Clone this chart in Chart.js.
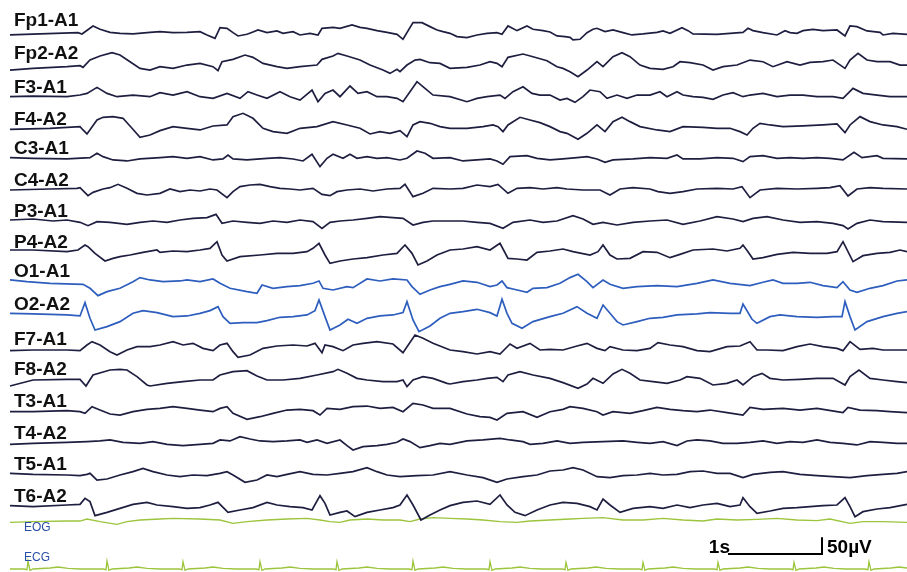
<!DOCTYPE html>
<html>
<head>
<meta charset="utf-8">
<script src="https://cdn.jsdelivr.net/npm/chart.js@4.4.1/dist/chart.umd.min.js"></script>
<style>
  html, body { margin: 0; padding: 0; background: #fff; }
  #wrap { position: relative; width: 907px; height: 572px; }
</style>
</head>
<body>
<div id="wrap"><canvas id="eeg"></canvas></div>
<script>
/* EEG page, 16 referential channels + EOG + ECG
   samples: [sample index, amplitude in uV], 94 samples = 1 s on screen */

const FS = 94;

const fp1A1 = [[0,-5],[68,2],[72,-2],[83,22],[90,12],[100,3],[110,0],[123,-2],[140,3],[150,5],[163,2],[177,3],[190,5],[197,-5],[205,-15],[210,17],[217,15],[223,2],[228,-8],[237,-3],[243,4],[248,10],[257,2],[267,7],[273,0],[283,5],[290,-5],[300,0],[308,-5],[312,15],[323,18],[330,15],[342,25],[350,18],[357,15],[367,8],[377,3],[387,-3],[393,-18],[403,32],[412,32],[420,20],[427,10],[433,5],[440,0],[447,-10],[457,-13],[467,-5],[477,0],[487,2],[492,-3],[498,22],[507,8],[517,22],[523,12],[533,8],[540,4],[547,-8],[555,-10],[560,-12],[563,-20],[570,-18],[577,2],[583,12],[587,15],[595,5],[603,10],[613,2],[622,-5],[633,-2],[647,3],[653,7],[660,0],[672,17],[678,8],[683,-2],[707,-3],[720,0],[733,3],[738,15],[743,8],[753,2],[767,-5],[775,8],[780,2],[787,0],[793,8],[803,12],[813,8],[827,10],[835,-8],[840,22],[847,20],[857,7],[870,3],[873,-5],[883,0],[897,-3]];

const fp2A2 = [[0,-10],[23,-5],[57,0],[70,3],[73,-2],[80,20],[90,32],[102,42],[110,35],[120,15],[130,-5],[140,-10],[150,0],[163,-5],[177,5],[190,10],[203,0],[208,-12],[212,15],[223,22],[235,35],[243,28],[253,10],[267,0],[277,-5],[290,0],[307,5],[312,22],[323,32],[328,40],[337,32],[350,20],[360,5],[373,-10],[380,-20],[387,-8],[390,-15],[397,5],[405,20],[410,22],[420,12],[430,10],[440,-5],[457,-2],[470,5],[480,15],[487,10],[492,0],[498,28],[513,38],[523,30],[537,18],[547,0],[553,-5],[560,-15],[568,-30],[577,-10],[587,15],[593,0],[603,30],[612,42],[620,30],[630,5],[640,-5],[653,-8],[663,0],[670,15],[680,12],[693,5],[703,-10],[713,0],[727,5],[740,20],[753,15],[763,0],[777,15],[790,5],[800,13],[813,15],[823,20],[835,-5],[840,20],[848,40],[857,20],[867,15],[880,15],[890,5],[897,5]];

const f3A1 = [[0,0],[23,2],[57,0],[70,5],[77,10],[87,28],[97,10],[107,0],[123,5],[140,0],[150,12],[163,5],[177,15],[190,0],[203,-5],[217,10],[230,-5],[238,15],[247,5],[257,-5],[270,15],[280,0],[290,-10],[302,20],[308,-15],[315,10],[323,20],[330,0],[340,32],[348,10],[357,15],[367,0],[377,0],[387,-5],[393,-15],[407,45],[415,25],[423,5],[440,0],[457,-15],[467,-5],[477,0],[490,5],[495,-5],[503,15],[513,30],[522,10],[530,5],[540,5],[550,-10],[557,-5],[565,-17],[573,0],[580,20],[590,15],[597,-5],[607,5],[617,-5],[627,5],[640,5],[650,15],[657,0],[667,15],[673,5],[683,0],[693,-2],[703,-8],[713,5],[723,12],[733,0],[740,5],[753,10],[767,0],[780,5],[793,5],[807,0],[823,0],[833,-5],[843,25],[853,10],[867,5],[880,0],[897,0]];

const f4A2 = [[0,-3],[40,0],[70,5],[73,-5],[77,-17],[87,25],[93,33],[103,35],[113,30],[122,0],[130,-27],[140,-20],[150,-7],[163,5],[177,0],[190,-5],[203,7],[217,10],[223,35],[233,45],[243,30],[253,0],[263,-10],[277,-15],[290,0],[307,5],[323,20],[337,10],[350,0],[360,-17],[370,-10],[380,-15],[390,-7],[397,-25],[403,10],[410,20],[420,15],[430,5],[440,0],[457,0],[473,5],[483,10],[488,5],[493,-10],[498,10],[510,33],[520,25],[530,17],[540,5],[550,-10],[557,-15],[568,-33],[577,-15],[587,10],[595,-10],[603,20],[612,33],[620,20],[630,5],[647,-5],[660,-10],[673,5],[693,3],[707,0],[720,0],[730,-10],[737,-20],[743,0],[750,15],[760,10],[773,5],[793,7],[813,10],[827,13],[835,-13],[840,10],[850,35],[860,20],[873,10],[887,5],[897,-3]];

const c3A1 = [[0,2],[23,0],[57,-2],[80,2],[87,15],[93,5],[103,-5],[117,-8],[130,-2],[150,2],[163,5],[177,0],[190,5],[203,-5],[213,-2],[218,10],[223,-2],[237,-5],[257,0],[270,2],[283,-2],[293,-8],[302,12],[310,-25],[317,0],[323,12],[333,0],[340,12],[347,0],[357,5],[367,0],[377,2],[390,-5],[397,0],[407,22],[415,15],[423,0],[440,2],[453,-8],[467,-5],[480,-2],[487,-8],[493,-18],[500,5],[517,8],[527,0],[540,-5],[553,-2],[567,2],[577,5],[587,-2],[595,-12],[603,-5],[623,-2],[640,2],[657,0],[667,10],[673,-2],[690,-2],[707,2],[723,0],[733,-10],[740,5],[753,8],[767,0],[780,2],[793,0],[807,2],[820,0],[833,-5],[844,18],[852,2],[867,8],[873,0],[897,-2]];

const c4A2 = [[0,0],[40,3],[67,5],[70,7],[78,-17],[83,-7],[93,3],[100,7],[108,17],[117,5],[127,-10],[137,-15],[150,-10],[160,3],[170,-5],[180,0],[190,-3],[200,3],[207,0],[217,-23],[223,-5],[230,10],[240,15],[250,17],[260,10],[270,5],[280,3],[290,0],[303,5],[312,-13],[320,-17],[327,-5],[337,0],[350,3],[363,-3],[377,3],[390,5],[395,17],[403,-20],[413,-10],[423,5],[440,3],[453,5],[467,15],[480,10],[488,17],[498,-10],[507,5],[520,7],[533,3],[547,7],[557,3],[573,0],[590,0],[600,-15],[610,3],[623,7],[640,3],[648,-5],[660,-10],[673,-5],[687,3],[707,5],[723,3],[732,10],[740,-23],[750,0],[767,5],[787,3],[807,5],[820,7],[830,13],[838,-18],[847,3],[860,7],[873,5],[897,3]];

const p3A1 = [[0,0],[23,3],[43,-3],[57,0],[70,-7],[78,-17],[87,-5],[100,-7],[117,-13],[130,-7],[143,-3],[157,-7],[170,0],[183,5],[197,7],[206,17],[212,-10],[223,-3],[237,-7],[250,-10],[263,-3],[277,-7],[290,0],[303,-5],[312,-25],[320,-7],[330,-3],[343,0],[357,5],[370,10],[383,7],[393,5],[403,-15],[413,-7],[423,-3],[440,-3],[453,-3],[467,-7],[480,-10],[493,-25],[503,-7],[520,0],[533,-7],[547,-3],[563,13],[573,3],[583,-13],[593,-7],[607,-15],[623,-7],[640,-3],[657,0],[673,-13],[690,-3],[707,10],[723,3],[733,-5],[743,5],[757,10],[773,0],[790,-7],[807,-5],[823,-10],[833,-17],[838,-27],[847,-10],[860,0],[873,-5],[897,-7]];

const p4A2 = [[0,3],[23,3],[57,-2],[68,3],[75,18],[78,13],[85,-7],[95,-30],[103,-22],[110,-17],[120,-12],[133,-4],[147,3],[150,-4],[163,0],[177,-2],[190,3],[200,8],[207,28],[212,-12],[217,-30],[230,-17],[250,-12],[267,-7],[283,-7],[297,-2],[303,8],[309,23],[315,-12],[320,-37],[330,-30],[343,-24],[357,-20],[373,-12],[387,-7],[395,18],[402,-7],[408,-42],[417,-30],[427,-12],[440,3],[453,6],[467,13],[480,3],[490,23],[498,-22],[507,-24],[517,-27],[527,-4],[540,0],[553,6],[563,-2],[580,-12],[588,-2],[593,18],[600,-12],[607,-24],[620,-22],[633,-2],[647,-4],[660,-20],[670,-10],[683,3],[703,6],[717,0],[730,8],[733,18],[738,-2],[743,-24],[753,-20],[767,-10],[783,-4],[800,-7],[817,-7],[827,-2],[833,28],[843,-32],[853,-14],[867,-7],[880,-4],[890,3],[897,-2]];

const o1A1 = [[0,10],[17,5],[40,0],[73,-3],[80,-15],[88,-37],[97,-25],[110,-15],[123,5],[130,17],[140,10],[153,5],[170,7],[177,10],[190,5],[203,13],[210,0],[220,-15],[237,-25],[247,-30],[252,-5],[263,-15],[277,-10],[290,-7],[303,0],[309,7],[313,-15],[323,-20],[337,-10],[343,-13],[357,13],[370,7],[383,13],[397,10],[402,-10],[410,-33],[420,-20],[430,-10],[440,-3],[453,7],[467,3],[480,-10],[487,-5],[492,7],[497,-13],[503,-17],[517,-27],[523,-15],[537,-13],[550,0],[560,17],[568,27],[577,5],[583,-13],[593,10],[600,-3],[613,-15],[627,-10],[647,-7],[667,-10],[687,0],[703,10],[720,0],[740,-7],[753,3],[763,10],[773,0],[787,0],[800,3],[813,-7],[827,-13],[833,5],[840,-20],[847,-27],[860,-15],[873,-7],[887,7],[897,10]];

const o2A2 = [[0,0],[23,-2],[57,-5],[70,-8],[75,32],[80,-15],[85,-50],[97,-40],[110,-25],[123,0],[133,8],[147,2],[163,-10],[177,-8],[190,0],[200,8],[208,20],[213,-10],[220,-30],[233,-28],[247,-28],[257,-22],[270,-12],[283,-10],[297,-5],[305,8],[309,40],[315,-10],[320,-50],[330,-35],[338,-18],[347,-30],[357,-15],[370,-8],[383,-5],[393,2],[397,35],[403,-20],[409,-55],[420,-38],[430,-15],[440,0],[453,5],[467,12],[480,2],[487,-8],[492,42],[497,0],[502,-30],[512,-45],[523,-25],[540,-10],[553,0],[567,20],[577,0],[587,-15],[593,25],[600,0],[607,-25],[613,-35],[627,-25],[640,-15],[653,-12],[667,-5],[687,-2],[700,2],[720,0],[730,0],[733,28],[742,-18],[747,-30],[760,-10],[770,-5],[787,-10],[807,-12],[823,-10],[832,-10],[835,35],[840,-10],[845,-50],[857,-25],[873,-10],[887,0],[897,5]];

const f7A1 = [[0,-2],[23,0],[57,0],[70,-2],[77,15],[82,25],[90,15],[100,-5],[107,-15],[117,0],[127,10],[140,10],[150,15],[163,25],[173,15],[183,20],[193,5],[203,-2],[210,15],[217,20],[223,-5],[228,-22],[240,-15],[253,5],[267,12],[283,15],[297,12],[305,20],[312,-8],[315,15],[323,10],[333,-2],[343,15],[353,20],[367,25],[383,18],[393,-8],[405,45],[413,35],[423,20],[440,0],[453,-5],[467,-12],[480,-5],[490,-12],[500,18],[507,5],[520,20],[530,0],[540,2],[553,0],[567,12],[577,20],[587,5],[595,-2],[600,10],[613,0],[627,-2],[640,5],[648,22],[660,15],[673,10],[687,-2],[700,-5],[717,10],[730,12],[740,25],[747,0],[757,0],[773,-2],[787,10],[800,18],[813,10],[827,5],[833,-2],[840,25],[850,2],[863,5],[873,0],[897,0]];

const f8A2 = [[0,-18],[23,0],[57,2],[70,2],[76,-18],[83,15],[100,30],[110,32],[117,30],[127,10],[137,-15],[140,-18],[157,-10],[173,-5],[190,0],[203,0],[210,15],[223,25],[237,28],[247,12],[257,0],[273,0],[290,5],[307,15],[323,25],[328,32],[337,20],[347,5],[357,0],[373,-5],[387,-5],[393,0],[397,-20],[403,0],[413,10],[423,5],[437,-10],[440,-12],[453,-5],[467,0],[477,5],[487,8],[493,-5],[498,15],[510,25],[523,15],[540,5],[553,-8],[568,-25],[577,-12],[583,5],[593,-10],[603,18],[612,32],[620,20],[630,0],[643,-5],[657,-10],[670,0],[677,10],[690,5],[703,-15],[717,-10],[727,0],[733,-15],[743,10],[752,20],[760,5],[773,0],[790,2],[807,5],[823,5],[835,-15],[840,10],[849,30],[860,5],[873,0],[887,-5],[897,-8]];

const t3A1 = [[0,0],[23,0],[57,3],[70,0],[75,-5],[82,15],[90,5],[100,-7],[110,-10],[123,0],[137,7],[150,10],[163,15],[177,10],[190,5],[203,0],[210,10],[217,15],[223,-5],[237,-23],[250,-15],[263,-5],[277,5],[290,7],[303,3],[310,-10],[317,10],[330,7],[343,15],[357,17],[370,10],[383,13],[393,0],[403,25],[413,20],[423,10],[440,10],[457,-7],[470,-15],[480,-17],[487,-25],[497,-5],[513,0],[527,-17],[540,0],[553,7],[560,15],[573,10],[587,0],[593,-10],[603,0],[620,-5],[633,3],[647,13],[660,7],[673,3],[687,0],[700,5],[717,-3],[733,-10],[740,13],[753,7],[773,10],[790,5],[807,10],[827,0],[833,-3],[838,13],[850,5],[867,3],[880,0],[897,-3]];

const t4A2 = [[0,-6],[23,-3],[57,0],[77,2],[90,4],[100,7],[113,0],[130,-3],[143,2],[157,-6],[173,-10],[190,-6],[203,-3],[210,7],[220,4],[230,17],[240,10],[250,4],[263,2],[277,4],[290,7],[297,0],[307,7],[317,-3],[330,7],[337,-10],[343,-23],[353,-13],[367,-10],[377,-6],[387,0],[393,10],[400,2],[410,-16],[420,-10],[430,-3],[440,-6],[457,4],[473,7],[490,12],[500,7],[513,2],[520,-6],[533,-3],[547,4],[560,-3],[573,0],[593,2],[613,4],[627,0],[640,-3],[653,2],[667,-10],[677,4],[687,7],[700,4],[713,-3],[727,-3],[740,0],[753,4],[767,-3],[780,2],[793,0],[807,7],[820,0],[833,-3],[847,-8],[860,2],[873,0],[887,-3],[897,-3]];

const t5A1 = [[0,2],[23,-1],[57,-3],[70,-5],[77,-1],[80,2],[87,-18],[97,-15],[110,-3],[123,7],[133,17],[143,7],[157,-3],[170,-8],[183,-3],[197,-5],[210,2],[217,7],[223,-3],[235,-25],[247,-18],[257,-3],[267,-8],[277,-1],[290,7],[303,-1],[317,-3],[330,2],[343,7],[357,19],[367,7],[377,-3],[390,-8],[407,-5],[423,-3],[440,7],[457,-3],[473,-11],[487,-25],[497,-15],[513,-8],[527,-3],[540,9],[553,12],[563,19],[573,12],[587,-8],[600,-11],[613,-5],[627,-3],[640,2],[653,-3],[667,-1],[680,7],[693,9],[707,2],[720,2],[733,-11],[743,-1],[760,5],[773,7],[790,-1],[807,-5],[823,-8],[840,-11],[857,-5],[873,-1],[887,2],[897,7]];

const t6A2 = [[0,-2],[23,-5],[57,0],[70,2],[75,20],[80,10],[85,-32],[97,-22],[110,-10],[123,2],[137,8],[147,0],[163,-5],[177,-10],[190,-8],[200,0],[208,8],[218,-22],[230,-15],[243,-8],[257,8],[267,0],[280,-5],[293,-8],[302,-15],[310,28],[315,5],[320,-30],[330,-22],[337,-18],[345,-35],[357,-22],[370,-15],[383,-8],[390,0],[397,30],[403,0],[411,-45],[420,-30],[430,-15],[440,-2],[453,8],[467,12],[480,2],[490,30],[497,0],[505,-22],[515,-32],[527,-15],[540,0],[553,8],[567,5],[580,-5],[587,-15],[593,18],[600,0],[610,-22],[623,-10],[640,-5],[653,-10],[667,0],[680,-8],[693,0],[707,5],[720,-5],[730,0],[733,22],[740,-5],[747,-25],[760,-18],[773,-10],[787,-8],[800,-5],[813,-2],[827,0],[835,22],[840,-5],[845,-35],[853,-20],[867,-12],[880,-8],[897,2]];

const eog = [[0,-7],[23,-5],[57,-3],[70,-3],[77,3],[90,-5],[107,-13],[117,-5],[130,0],[150,3],[163,5],[190,3],[210,0],[223,-10],[237,-5],[257,0],[277,3],[297,5],[310,0],[320,-5],[330,-7],[340,0],[357,3],[373,0],[390,0],[400,-5],[410,3],[423,7],[440,5],[457,3],[473,0],[490,-5],[507,-7],[520,-3],[540,0],[560,3],[573,5],[593,7],[613,0],[633,0],[653,5],[673,0],[693,-3],[707,3],[727,0],[747,2],[767,5],[787,0],[807,-2],[820,3],[840,-10],[853,-5],[873,-5],[897,-7]];

const ecg = [[0,0],[14,0],[17,-2],[18,24],[20,-4],[23,0],[40,3],[48,6],[58,2],[70,0],
  [93,0],[96,-2],[97,24],[99,-4],[102,0],[119,3],[127,6],[137,2],[150,0],
  [169,0],[172,-2],[173,22],[175,-4],[178,0],[195,3],[203,6],[213,2],[226,0],
  [246,0],[249,-2],[250,22],[252,-4],[255,0],[272,3],[280,6],[290,2],[303,0],
  [323,0],[326,-2],[327,22],[329,-4],[332,0],[349,3],[357,6],[367,2],[380,0],
  [399,0],[402,-2],[403,24],[405,-4],[408,0],[425,3],[433,6],[443,2],[456,0],
  [476,0],[479,-2],[480,22],[482,-4],[485,0],[502,3],[510,6],[520,2],[532,0],
  [552,0],[555,-2],[556,20],[558,-4],[561,0],[578,3],[586,6],[596,2],[609,0],
  [629,0],[632,-2],[633,20],[635,-4],[638,0],[655,3],[663,6],[673,2],[685,0],
  [704,0],[707,-2],[708,20],[710,-4],[713,0],[730,3],[738,6],[748,2],[760,0],
  [780,0],[783,-2],[784,20],[786,-4],[789,0],[806,3],[814,6],[824,2],[836,0],
  [855,0],[858,-2],[859,22],[861,-4],[864,0],[881,3],[889,6],[897,3]];

const channelLabels = ['Fp1-A1','Fp2-A2','F3-A1','F4-A2','C3-A1','C4-A2','P3-A1','P4-A2',
  'O1-A1','O2-A2','F7-A1','F8-A2','T3-A1','T4-A2','T5-A1','T6-A2','EOG','ECG'];
const channelData = [fp1A1, fp2A2, f3A1, f4A2, c3A1, c4A2, p3A1, p4A2,
  o1A1, o2A2, f7A1, f8A2, t3A1, t4A2, t5A1, t6A2, eog, ecg];

// layout: trace baseline row and label row, px from the top
const rowY = [33.3, 66.7, 96.7, 128.3, 158.3, 190, 220, 251, 283.3, 313.3, 350, 380, 411.7, 442.3, 474, 505, 520, 569];
const labelY = [21, 54, 88, 120, 149, 181, 212, 243, 272, 305, 340, 370, 402, 434, 465, 497, 528, 558];

const UV_PER_PX = 3;
const H = 572;
const NAVY = '#1e1e40', BLUE = '#2d5dbd', GREEN = '#9cc53d';
const LABEL_FONT = 'bold 19px "Liberation Sans", Arial, sans-serif';

function traceColor(i) {
    if (i === 8 || i === 9) return BLUE;
    if (i >= 16) return GREEN;
    return NAVY;
}

const datasets = channelData.map((d, i) => ({
    label: channelLabels[i],
    data: d.map(p => ({ x: p[0], y: -rowY[i] * UV_PER_PX + p[1] })),
    borderColor: traceColor(i),
    borderWidth: i >= 16 ? 1.3 : 1.7,
    pointRadius: 0,
    tension: 0,
    fill: false
}));

// channel names + 1 s / 50 uV calibration bar
const overlay = {
    id: 'overlay',
    afterDraw(chart) {
        const ctx = chart.ctx;
        const xs = chart.scales.x, ys = chart.scales.y;
        ctx.save();
        ctx.textBaseline = 'middle';
        channelLabels.forEach((name, i) => {
            if (i >= 16) {
                ctx.font = '12px "Liberation Sans", Arial, sans-serif';
                ctx.fillStyle = '#2a4fa8';
                ctx.fillText(name, 24, labelY[i]);
            } else {
                ctx.font = LABEL_FONT;
                ctx.fillStyle = '#111';
                ctx.fillText(name, 14, labelY[i]);
            }
        });

        const barStart = 718, barBase = -554 * UV_PER_PX;
        const x0 = xs.getPixelForValue(barStart);
        const x1 = xs.getPixelForValue(barStart + FS);
        const y0 = ys.getPixelForValue(barBase);
        const y1 = ys.getPixelForValue(barBase + 50);
        ctx.strokeStyle = '#000';
        ctx.lineWidth = 2;
        ctx.beginPath();
        ctx.moveTo(x0, y0);
        ctx.lineTo(x1, y0);
        ctx.lineTo(x1, y1);
        ctx.stroke();
        ctx.font = LABEL_FONT;
        ctx.fillStyle = '#000';
        ctx.textBaseline = 'alphabetic';
        ctx.textAlign = 'right';
        ctx.fillText('1s', x0 + 2, y0 - 1);
        ctx.textAlign = 'left';
        ctx.fillText('50\u00b5V', x1 + 5, y0 - 1);
        ctx.restore();
    }
};

new Chart(document.getElementById('eeg'), {
    type: 'line',
    data: { datasets },
    options: {
        responsive: true,
        maintainAspectRatio: false,
        animation: false,
        layout: { padding: 0 },
        scales: {
            x: { type: 'linear', min: -10, max: 897, display: false },
            y: { type: 'linear', min: -H * UV_PER_PX, max: 0, display: false }
        },
        plugins: {
            legend: { display: false },
            tooltip: { enabled: false }
        }
    },
    plugins: [overlay]
});
</script>
</body>
</html>
